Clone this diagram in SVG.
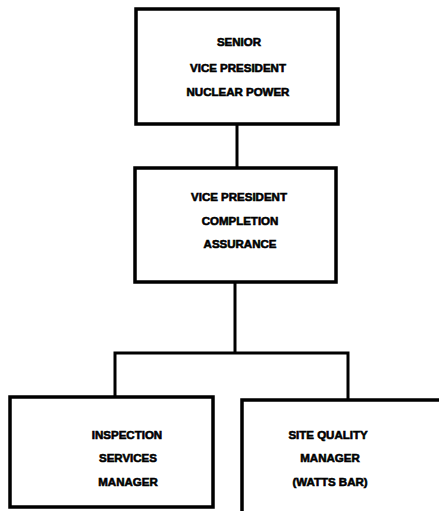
<svg xmlns="http://www.w3.org/2000/svg" width="439" height="511" viewBox="0 0 439 511">
<style>
.box{fill:none;stroke:#000;stroke-width:3.5}
.ln{fill:none;stroke:#000;stroke-width:3}
text{font-family:"Liberation Sans",Arial,sans-serif;font-weight:bold;font-size:11.5px;text-anchor:middle;fill:#000;stroke:#000;stroke-width:0.6}
</style>
<rect width="439" height="511" fill="#fff"/>
<g id="connectors">
<line class="ln" x1="237" y1="124" x2="237" y2="168"/>
<line class="ln" x1="235" y1="282" x2="235" y2="353"/>
<polyline class="ln" points="115,397 115,353 348,353 348,400"/>
</g>
<g id="senior-vp">
<rect class="box" x="136" y="9" width="202" height="115"/>
<text x="239" y="46">SENIOR</text>
<text x="238" y="72">VICE PRESIDENT</text>
<text x="238" y="96">NUCLEAR POWER</text>
</g>
<g id="vp-completion">
<rect class="box" x="135" y="168" width="201" height="114"/>
<text x="239" y="201">VICE PRESIDENT</text>
<text x="240" y="225">COMPLETION</text>
<text x="240" y="248">ASSURANCE</text>
</g>
<g id="inspection">
<rect class="box" x="10" y="397" width="203" height="110"/>
<text x="127" y="439">INSPECTION</text>
<text x="128" y="462">SERVICES</text>
<text x="128" y="486">MANAGER</text>
</g>
<g id="site-quality">
<rect class="box" x="242" y="400" width="220" height="130"/>
<text x="328" y="439">SITE QUALITY</text>
<text x="330" y="462">MANAGER</text>
<text x="330" y="486">(WATTS BAR)</text>
</g>
</svg>
